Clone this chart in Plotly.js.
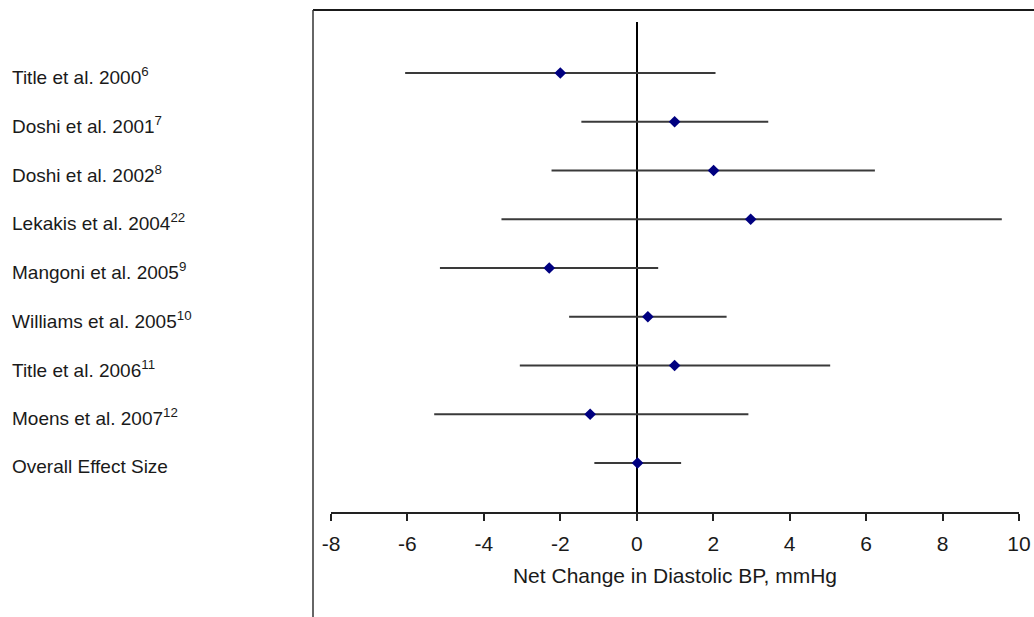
<!DOCTYPE html>
<html>
<head>
<meta charset="utf-8">
<script src="https://cdn.plot.ly/plotly-3.0.1.min.js"></script>
<style>
  html, body { margin: 0; padding: 0; background: #ffffff; }
  #chart { width: 1034px; height: 617px; }
</style>
</head>
<body>
<div id="chart"></div>
<script>
// Study labels (top to bottom)
const studies = [
  "Title et al. 2000<sup>6</sup>",
  "Doshi et al. 2001<sup>7</sup>",
  "Doshi et al. 2002<sup>8</sup>",
  "Lekakis et al. 2004<sup>22</sup>",
  "Mangoni et al. 2005<sup>9</sup>",
  "Williams et al. 2005<sup>10</sup>",
  "Title et al. 2006<sup>11</sup>",
  "Moens et al. 2007<sup>12</sup>",
  "Overall Effect Size"
];
// Net change in diastolic BP (mmHg): point estimate and 95% CI
const estimate = [-2.0, 0.99, 2.01, 2.98, -2.29, 0.29, 0.99, -1.22, 0.02];
const ciLower  = [-6.06, -1.45, -2.23, -3.54, -5.15, -1.77, -3.06, -5.30, -1.11];
const ciUpper  = [2.06, 3.44, 6.23, 9.55, 0.56, 2.35, 5.06, 2.92, 1.16];
const xTicks   = [-8, -6, -4, -2, 0, 2, 4, 6, 8, 10];

const rowIdx = studies.map((_, i) => i);

const trace = {
  type: "scatter",
  mode: "markers",
  x: estimate,
  y: rowIdx,
  marker: { symbol: "diamond", size: 9, color: "#000080" },
  error_x: {
    type: "data",
    symmetric: false,
    array: estimate.map((e, i) => ciUpper[i] - e),
    arrayminus: estimate.map((e, i) => e - ciLower[i]),
    color: "#3a3a3a",
    thickness: 2,
    width: 0
  },
  hoverinfo: "skip",
  showlegend: false
};

const fontFam = "Liberation Sans, Arial, Helvetica, sans-serif";

const annotations = studies.map((s, i) => ({
  xref: "paper", yref: "y",
  x: (10 - 331) / 688, y: i,
  xanchor: "left", yanchor: "middle",
  yshift: -3,
  text: s, showarrow: false,
  font: { family: fontFam, size: 19, color: "#1a1a1a" }
}));

const layout = {
  width: 1034, height: 617,
  margin: { l: 331, r: 15, t: 22, b: 105 },
  paper_bgcolor: "#ffffff",
  plot_bgcolor: "#ffffff",
  xaxis: {
    range: [-8, 10],
    tickmode: "array",
    tickvals: xTicks,
    ticktext: xTicks.map(String),
    showgrid: false,
    zeroline: true, zerolinecolor: "#000000", zerolinewidth: 2,
    showline: true, linecolor: "#222222", linewidth: 2,
    ticks: "outside", ticklen: 7, tickwidth: 2, tickcolor: "#222222",
    ticklabelstandoff: 5,
    tickfont: { family: fontFam, size: 21, color: "#1a1a1a" },
    title: { text: "Net Change in Diastolic BP, mmHg", font: { family: fontFam, size: 21, color: "#1a1a1a" }, standoff: 14 },
    fixedrange: true
  },
  yaxis: {
    range: [9.005, -1.046],
    showgrid: false, zeroline: false, showline: false,
    showticklabels: false, ticks: "",
    fixedrange: true
  },
  annotations: annotations,
  shapes: [
    { type: "line", xref: "paper", yref: "paper",
      x0: (313 - 331) / 688, x1: (1034 - 331) / 688,
      y0: (512 - 10) / 490, y1: (512 - 10) / 490,
      line: { color: "#1a1a1a", width: 2 } },
    { type: "line", xref: "paper", yref: "paper",
      x0: (313 - 331) / 688, x1: (313 - 331) / 688,
      y0: (512 - 10) / 490, y1: (512 - 620) / 490,
      line: { color: "#333333", width: 1.5 } }
  ]
};

Plotly.newPlot("chart", [trace], layout, { displayModeBar: false, staticPlot: true });
</script>
</body>
</html>
